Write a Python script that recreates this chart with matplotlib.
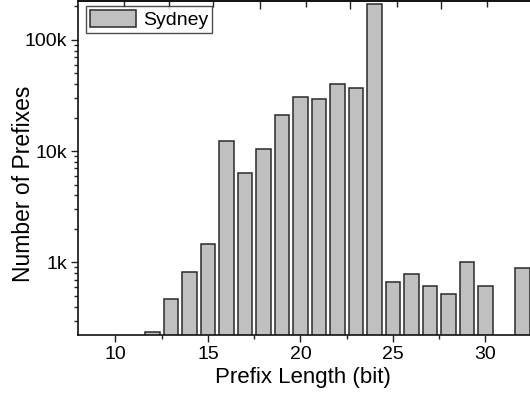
import numpy as np
import matplotlib
matplotlib.use("Agg")
import matplotlib.pyplot as plt
from matplotlib.ticker import FixedLocator, FuncFormatter, LogLocator, NullFormatter

plt.rcParams['font.family'] = ['Liberation Sans', 'DejaVu Sans']

# prefix lengths and counts (Sydney)
prefix_len = [12, 13, 14, 15, 16, 17, 18, 19, 20, 21, 22, 23, 24,
              25, 26, 27, 28, 29, 30, 32]
counts = [236, 468, 824, 1473, 12300, 6380, 10500, 21100, 30500, 29600,
          39900, 37200, 211000, 661, 791, 608, 519, 1008, 612, 890]
series_name = "Sydney"
xticks = [10, 15, 20, 25, 30]
xminor = [12.5, 17.5, 22.5, 27.5, 32.5]
top_major = [12.9, 17.8, 22.7, 27.6]
top_minor = [10.46, 15.3, 20.3, 25.2, 30.1]

fig = plt.figure(figsize=(5.3, 3.95), dpi=100)
ax = fig.add_axes([0.148, 0.1527, 0.9075, 0.845])

ax.bar(prefix_len, counts, width=0.77, color='#c0c0c0', edgecolor='#2a2a2a',
       linewidth=1.1, label=series_name, zorder=2)

ax.set_yscale('log')
ax.set_ylim(224, 224000)
ax.set_xlim(8, 34)

ax.xaxis.set_major_locator(FixedLocator(xticks))
ax.xaxis.set_minor_locator(FixedLocator(xminor))
ax.yaxis.set_major_locator(LogLocator(base=10, numticks=10))
ax.yaxis.set_minor_locator(LogLocator(base=10, subs=np.arange(2, 10), numticks=20))
ax.yaxis.set_minor_formatter(NullFormatter())
ax.yaxis.set_major_formatter(FuncFormatter(
    lambda v, p: "%dk" % int(round(v / 1000)) if v >= 1000 else "%d" % v))

ax.tick_params(axis='both', which='major', direction='out', length=5, width=1,
               labelsize=14, pad=3, top=False, right=False, color='#222222')
ax.tick_params(axis='both', which='minor', direction='out', length=3, width=1,
               top=False, right=False, color='#222222')

for s in ['left', 'bottom', 'top']:
    ax.spines[s].set_linewidth(1.2)
    ax.spines[s].set_color('#111111')
ax.spines['right'].set_visible(False)

# ticks on top spine, pointing inward
top = ax.secondary_xaxis('top')
top.xaxis.set_major_locator(FixedLocator(top_major))
top.xaxis.set_minor_locator(FixedLocator(top_minor))
top.tick_params(which='major', direction='in', length=6, width=1, labeltop=False, color='#222222')
top.tick_params(which='minor', direction='in', length=4, width=1, color='#222222')
top.spines['top'].set_linewidth(1.2)

ax.set_xlabel("Prefix Length (bit)", fontsize=16)
ax.set_ylabel("Number of Prefixes", fontsize=16.5)
ax.xaxis.set_label_coords(0.467, -0.097)
ax.yaxis.set_label_coords(-0.09, 0.453)

leg = ax.legend(loc='upper left', bbox_to_anchor=(0.015, 0.985), fontsize=14,
                frameon=True, fancybox=False, handlelength=2.4, handleheight=1.0,
                borderpad=0.2, handletextpad=0.35, borderaxespad=0)
leg.get_frame().set_edgecolor('#222222')
leg.get_frame().set_linewidth(1.0)

fig.savefig("out.png", dpi=100)
